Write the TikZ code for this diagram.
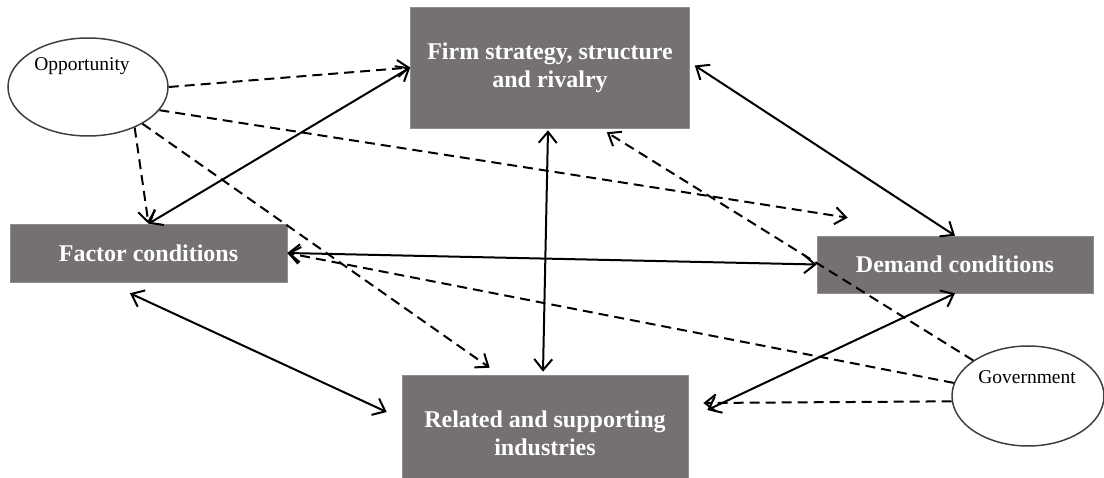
\documentclass[tikz,border=0pt]{standalone}
\usepackage{fontspec}
\setmainfont{Liberation Serif}
\usetikzlibrary{arrows.meta,shapes.geometric}
\definecolor{boxgray}{HTML}{767171}
\definecolor{ringgray}{HTML}{404040}
\tikzset{
  box/.style={rectangle, fill=boxgray, draw=boxgray!80!white, line width=0.6pt, inner sep=0pt, text=white, align=center,
    font=\fontsize{24}{28}\selectfont\bfseries},
  ring/.style={ellipse, draw=ringgray, line width=1.5pt, inner sep=0pt, fill=white},
  small/.style={font=\fontsize{19.5}{22}\selectfont, inner sep=0pt},
  link/.style={line width=2pt, {Straight Barb[length=11pt,width=18pt,line width=2pt]}-{Straight Barb[length=11pt,width=18pt,line width=2pt]}},
  influence/.style={line width=2pt, dash pattern=on 10pt off 6pt, -{Straight Barb[length=11pt,width=17pt,line width=2pt]}},
}
\begin{document}
\begin{tikzpicture}[x=1pt,y=-1pt]
\useasboundingbox (0,0) rectangle (1104,478);
% boxes
\node[box, minimum width=279pt, minimum height=121pt] (firm) at (550,67.5) {Firm strategy, structure\\and rivalry};
\node[box, minimum width=277pt, minimum height=58pt] (factor) at (148.5,253) {Factor conditions};
\node[box, minimum width=276pt, minimum height=57pt] (demand) at (955,264.5) {Demand conditions};
\node[box, minimum width=286pt, minimum height=117pt] (related) at (545,433.5) {Related and supporting\\industries};
% ellipses
\node[ring, minimum width=160pt, minimum height=98pt] (opp) at (88,87) {};
\node[small] (opptext) at (82,66) {Opportunity};
\node[ring, minimum width=152pt, minimum height=100pt] (gov) at (1028,396) {};
\node[small] (govtext) at (1027,377) {Government};
% free ends
\coordinate (oppdem) at ([shift={(31,-18)}]demand.north west);
\coordinate (opprel) at ([shift={(88,-7)}]related.north west);
\coordinate (govfirm) at ([shift={(-83,4)}]firm.south east);
\coordinate (govrel) at ([shift={(15,-30.5)}]related.east);
\coordinate (facrelA) at ([shift={(-18.5,11)}]factor.south);
\coordinate (facrelB) at ([shift={(-15,-21.5)}]related.west);
\coordinate (reldemA) at ([shift={(19,-23.5)}]related.east);
% dashed influences
\draw[influence] (opp.0) -- (firm.west);
\draw[influence] (opp.-18) -- (oppdem);
\draw[influence] (opp.-41) -- (factor.north);
\draw[influence] (opp.-34) -- (opprel);
\draw[influence] (gov.147) -- (govfirm);
\draw[influence] (gov.170) -- (factor.east);
\draw[influence] (gov.184) -- (govrel);
% solid links
\draw[link] (factor.north) -- (firm.west);
\draw[link] ([shift={(5,-2)}]firm.east) -- (demand.north);
\draw[link] ([shift={(-2,2)}]firm.south) -- ([shift={(-2,-3)}]related.north);
\draw[link] (factor.east) -- (demand.west);
\draw[link] (facrelA) -- (facrelB);
\draw[link] (reldemA) -- (demand.south);
\end{tikzpicture}
\end{document}
